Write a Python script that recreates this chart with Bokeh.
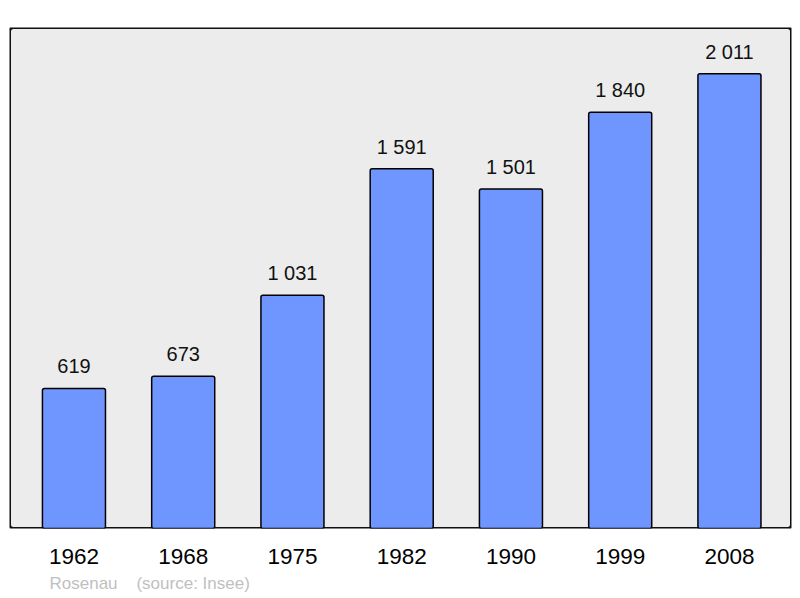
from bokeh.plotting import figure
from bokeh.models import Range1d, FixedTicker, BoxAnnotation, Title, ColumnDataSource
from bokeh.core.properties import value
from bokeh.embed import file_html
from bokeh.resources import INLINE

years = ["1962", "1968", "1975", "1982", "1990", "1999", "2008"]
population = [619, 673, 1031, 1591, 1501, 1840, 2011]
commune = "Rosenau"
source_note = "(source: Insee)"

idx = list(range(len(years)))
labels = [format(v, ",").replace(",", " ") for v in population]

src = ColumnDataSource(dict(x=idx, top=population, lab=labels))

p = figure(width=800, height=598, output_backend="svg", toolbar_location=None,
           x_range=Range1d(-0.59, 6.568), y_range=Range1d(0, 2215),
           min_border_left=9, min_border_right=9, min_border_top=27, min_border_bottom=70)
p.outline_line_color = None
p.background_fill_color = "white"
p.border_fill_color = "white"
p.xgrid.visible = False
p.ygrid.visible = False
p.yaxis.visible = False

bg = BoxAnnotation(fill_color="#ececec", fill_alpha=1.0, line_color="#111111", line_width=3,
                   line_alpha=1.0, border_radius=4, level="underlay")
p.add_layout(bg)

p.vbar(x="x", top="top", width=0.577, source=src, fill_color="#6f96ff",
       line_color="black", line_width=1.5, border_radius=2)

p.text(x="x", y="top", text="lab", source=src, text_align="center",
       text_baseline="alphabetic", y_offset=-22, text_font_size="20px",
       text_font=value("Liberation Sans"), text_color="#111111")

ax = p.xaxis[0]
ax.ticker = FixedTicker(ticks=idx)
ax.major_label_overrides = {i: y for i, y in zip(idx, years)}
ax.axis_line_color = None
ax.major_tick_line_color = None
ax.minor_tick_line_color = None
ax.major_label_standoff = 14
ax.major_label_text_font_size = "22.5px"
ax.major_label_text_font = "Liberation Sans"
ax.major_label_text_color = "black"

footer = Title(text=commune + "\u00a0" * 4 + source_note, align="left", offset=40,
               standoff=11, text_font_size="17px", text_font="Liberation Sans",
               text_font_style="normal", text_color="#c0c0c0")
p.add_layout(footer, "below")

open("out.html", "w").write(file_html(p, INLINE))
